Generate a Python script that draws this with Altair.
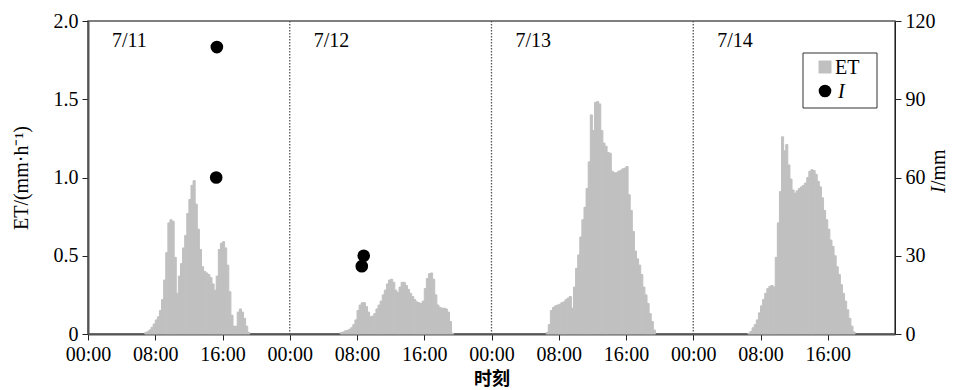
import json
import altair as alt
import pandas as pd

# ---------------- data ----------------
tick_labels = ["00:00", "08:00", "16:00"]
day_labels = ["7/11", "7/12", "7/13", "7/14"]
day_bounds = [24, 48, 72]
step_h = 0.25                      # 15-min ET records
day_first_slot = [6.75, 6.0, 6.5, 6.5]

et_0711 = [0.01, 0.015, 0.026, 0.043, 0.064, 0.09, 0.11, 0.15, 0.22, 0.345,
           0.52, 0.71, 0.73, 0.72, 0.49, 0.26, 0.37, 0.45, 0.55, 0.63,
           0.77, 0.86, 0.95, 0.98, 0.83, 0.67, 0.54, 0.43, 0.40, 0.39,
           0.38, 0.36, 0.32, 0.28, 0.37, 0.54, 0.58, 0.59, 0.55, 0.44,
           0.27, 0.12, 0.05, 0.05, 0.14, 0.16, 0.14, 0.10, 0.05, 0.01]
et_0712 = [0.01, 0.013, 0.02, 0.023, 0.03, 0.04, 0.06, 0.09, 0.15, 0.185,
           0.20, 0.20, 0.175, 0.14, 0.11, 0.115, 0.13, 0.16, 0.185, 0.21,
           0.25, 0.28, 0.32, 0.345, 0.35, 0.33, 0.28, 0.265, 0.30, 0.33,
           0.33, 0.31, 0.285, 0.26, 0.24, 0.22, 0.205, 0.20, 0.195, 0.21,
           0.29, 0.355, 0.385, 0.39, 0.35, 0.25, 0.185, 0.17, 0.165, 0.165,
           0.16, 0.14, 0.08, 0.005]
et_0713 = [0.01, 0.06, 0.15, 0.17, 0.18, 0.185, 0.19, 0.20, 0.205, 0.22,
           0.23, 0.24, 0.165, 0.30, 0.42, 0.505, 0.62, 0.73, 0.81, 0.93,
           1.10, 1.40, 1.30, 1.48, 1.485, 1.47, 1.30, 1.22, 1.20, 1.16,
           1.155, 1.04, 1.03, 1.03, 1.04, 1.045, 1.055, 1.06, 1.07, 0.89,
           0.79, 0.655, 0.53, 0.48, 0.44, 0.38, 0.30, 0.25, 0.195, 0.13,
           0.08, 0.025]
et_0714 = [0.005, 0.017, 0.04, 0.06, 0.09, 0.135, 0.18, 0.22, 0.26, 0.29,
           0.305, 0.31, 0.30, 0.49, 0.71, 0.91, 1.26, 1.17, 1.21, 1.08,
           0.99, 0.92, 0.90, 0.915, 0.93, 0.94, 0.95, 0.965, 1.00, 1.04,
           1.05, 1.045, 1.02, 0.975, 0.94, 0.87, 0.79, 0.73, 0.67, 0.60,
           0.56, 0.50, 0.43, 0.38, 0.315, 0.26, 0.21, 0.155, 0.10, 0.05,
           0.013]

irr_time_h = [15.33, 15.25, 32.8, 32.57]
irr_mm = [110, 60, 30, 26]

# ---------------- tables ----------------
rows = []
for d, (first, vals) in enumerate(zip(day_first_slot, [et_0711, et_0712, et_0713, et_0714])):
    for i, v in enumerate(vals):
        t = 24 * d + first + i * step_h
        rows.append({"t": t, "t2": t + step_h, "et": v, "zero": 0.0})
et_df = pd.DataFrame(rows)
irr_df = pd.DataFrame({"t": irr_time_h, "I": irr_mm})
day_df = pd.DataFrame({"d": [24 * i for i in range(4)], "lab": day_labels})
bound_df = pd.DataFrame({"b": day_bounds})
one = pd.DataFrame({"a": [0]})

SERIF = "Liberation Serif"
GRAY = "#c0c0c0"
xscale = alt.Scale(domain=[0, 96], nice=False, zero=False)
label_expr = json.dumps(tick_labels) + "[floor((datum.value % 24) / 8)]"

x_axis = alt.Axis(values=list(range(0, 96, 8)), labelExpr=label_expr, title="时刻",
                  titleFont="Noto Sans CJK SC", titleFontWeight="bold", titleFontSize=18,
                  titlePadding=6, labelFlush=False, labelOverlap=False, labelPadding=4,
                  domainColor="#555", domainWidth=2, tickColor="#222", tickSize=6,
                  grid=False)

bars = alt.Chart(et_df).mark_rect(color=GRAY, stroke=GRAY, strokeWidth=1.0).encode(
    x=alt.X("t:Q", scale=xscale, axis=x_axis),
    x2="t2:Q",
    y=alt.Y("et:Q", scale=alt.Scale(domain=[0, 2], nice=False),
            axis=alt.Axis(values=[0, 0.5, 1.0, 1.5, 2.0],
                          labelExpr="datum.value == 0 ? '0' : format(datum.value, '.1f')",
                          title="ET/(mm·h⁻¹)", titleFont=SERIF, titleFontWeight="normal",
                          titleFontSize=20, titlePadding=22, orient="left",
                          domainColor="#555", domainWidth=2, tickColor="#222",
                          tickSize=6, grid=False)),
    y2="zero:Q",
)

rules = alt.Chart(bound_df).mark_rule(color="#555", strokeDash=[1.5, 1.5], strokeWidth=1.3).encode(
    x=alt.X("b:Q", scale=xscale)
)

points = alt.Chart(irr_df).mark_circle(size=160, color="black", opacity=1).encode(
    x=alt.X("t:Q", scale=xscale),
    y=alt.Y("I:Q", scale=alt.Scale(domain=[0, 120], nice=False),
            axis=alt.Axis(values=[0, 30, 60, 90, 120], orient="right", title="",
                          domainColor="#222", domainWidth=1, tickColor="#222",
                          tickSize=6, grid=False)),
)

days = alt.Chart(day_df).mark_text(align="left", baseline="alphabetic", font=SERIF,
                                   fontSize=20, dx=24, color="black").encode(
    x=alt.X("d:Q", scale=xscale), y=alt.value(26), text="lab:N"
)

# legend (drawn by hand so that "I" can be italic)
leg_box = alt.Chart(one).mark_rect(fill="white", stroke="#333", strokeWidth=1).encode(
    x=alt.value(715), x2=alt.value(789), y=alt.value(32), y2=alt.value(87))
leg_sq = alt.Chart(one).mark_square(size=169, color=GRAY, opacity=1).encode(
    x=alt.value(737), y=alt.value(46))
leg_ci = alt.Chart(one).mark_circle(size=160, color="black", opacity=1).encode(
    x=alt.value(737), y=alt.value(70))
leg_t1 = alt.Chart(one).mark_text(text="ET", align="left", baseline="middle", font=SERIF,
                                  fontSize=20, color="black").encode(
    x=alt.value(747), y=alt.value(47))
leg_t2 = alt.Chart(one).mark_text(text="I", align="left", baseline="middle", font=SERIF,
                                  fontSize=20, fontStyle="italic", color="black").encode(
    x=alt.value(750), y=alt.value(71))

# right axis title "I/mm" with italic I
rt1 = alt.Chart(one).mark_text(text="I", align="left", baseline="middle", angle=270,
                               font=SERIF, fontSize=20, fontStyle="italic", color="black").encode(
    x=alt.value(851), y=alt.value(172))
rt2 = alt.Chart(one).mark_text(text="/mm", align="left", baseline="middle", angle=270,
                               font=SERIF, fontSize=20, color="black").encode(
    x=alt.value(851), y=alt.value(165))

chart = alt.layer(bars, rules, points, days, leg_box, leg_sq, leg_ci, leg_t1, leg_t2, rt1, rt2
).resolve_scale(y="independent").properties(
    width=807, height=313,
    autosize=alt.AutoSizeParams(type="none"),
    padding={"left": 80, "top": 13, "right": 57, "bottom": 54},
).configure_axis(
    labelFont=SERIF, labelFontSize=20, labelColor="black", labelPadding=4,
).configure_view(stroke="#555", strokeWidth=1.5)

chart.save("out.html", embed_options={"renderer": "svg", "actions": False})
